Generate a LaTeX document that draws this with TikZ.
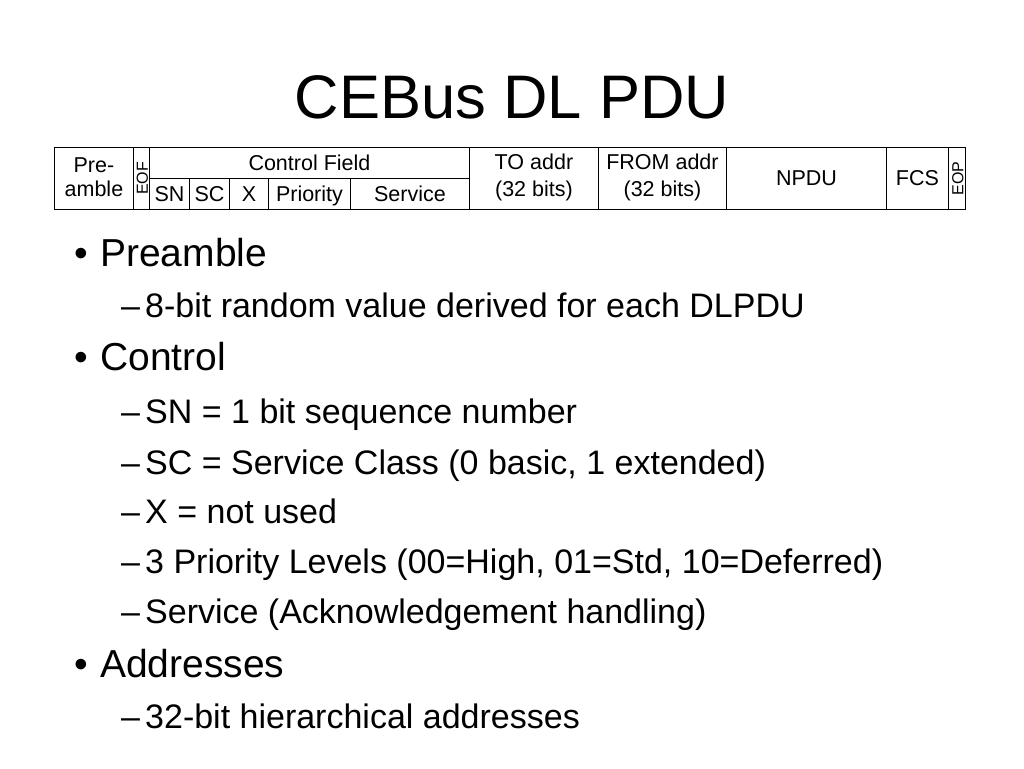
\documentclass[tikz,border=0pt]{standalone}
\usepackage{fontspec}
\setmainfont{Liberation Sans}
\begin{document}
\begin{tikzpicture}[x=1pt,y=-1pt,
  cell/.style={draw, line width=0.9pt, inner sep=0pt, anchor=north west, align=center,
    font=\fontsize{21.5}{24}\selectfont},
  lbl/.style={inner sep=0pt, anchor=base, font=\fontsize{21.5}{24}\selectfont},
  vlbl/.style={rotate=90, inner sep=0pt, font=\fontsize{16}{18}\selectfont},
  ttl/.style={anchor=base, font=\fontsize{61.5}{70}\selectfont},
  lone/.style={anchor=base west, inner sep=0pt, font=\fontsize{39}{44}\selectfont},
  ltwo/.style={anchor=base west, inner sep=0pt, font=\fontsize{34}{38}\selectfont}]
\useasboundingbox (0,0) rectangle (1024,768);
% title
\node[ttl] (title) at (512,118) {CEBus DL PDU};
% table cells
\newcommand{\cellat}[5]{% name, x0, x1, y0, y1
  \node[cell, minimum width=#3pt-#2pt, minimum height=#5pt-#4pt] (#1) at (#2,#4) {};}
\cellat{pre}{54}{133}{147}{209}
\cellat{eof}{133}{149}{147}{209}
\cellat{ctl}{149}{469}{147}{178}
\cellat{sn}{149}{189}{178}{209}
\cellat{sc}{189}{229}{178}{209}
\cellat{xx}{229}{268}{178}{209}
\cellat{pri}{268}{350}{178}{209}
\cellat{srv}{350}{469}{178}{209}
\cellat{to}{469}{598}{147}{209}
\cellat{from}{598}{726}{147}{209}
\cellat{npdu}{726}{886}{147}{209}
\cellat{fcs}{886}{948}{147}{209}
\cellat{eop}{948}{965}{147}{209}
% cell labels
\node[lbl] (prea) at ([yshift=6pt]pre.center) {Pre-};
\node[lbl] (preb) at ([yshift=-18.5pt]pre.center) {amble};
\node[vlbl] (eoft) at ([xshift=1pt]eof.center) {EOF};
\node[lbl] (ctlt) at ([yshift=-8pt]ctl.center) {Control Field};
\node[lbl] (snt) at ([yshift=-7.5pt]sn.center) {SN};
\node[lbl] (sct) at ([yshift=-7.5pt]sc.center) {SC};
\node[lbl] (xt) at ([yshift=-7.5pt]xx.center) {X};
\node[lbl] (prit) at ([yshift=-7.5pt]pri.center) {Priority};
\node[lbl] (srvt) at ([yshift=-7.5pt]srv.center) {Service};
\node[lbl] (toa) at ([yshift=8.5pt]to.center) {TO addr};
\node[lbl] (tob) at ([yshift=-18.5pt]to.center) {(32 bits)};
\node[lbl] (froma) at ([yshift=8.5pt]from.center) {FROM addr};
\node[lbl] (fromb) at ([yshift=-18.5pt]from.center) {(32 bits)};
\node[lbl] (npdut) at ([yshift=-7.5pt]npdu.center) {NPDU};
\node[lbl] (fcst) at ([yshift=-7.5pt]fcs.center) {FCS};
\node[vlbl] (eopt) at ([xshift=1pt]eop.center) {EOP};
% bullets
\node[lone] (b1) at (74,266.5) {\textbullet};
\node[lone] (t1) at (100,266.5) {Preamble};
\node[ltwo] (d1) at (121,317) {–};
\node[ltwo] (s1) at (145,317) {8-bit random value derived for each DLPDU};
\node[lone] (b2) at (74,370.5) {\textbullet};
\node[lone] (t2) at (100,370.5) {Control};
\node[ltwo] (d2) at (121,423) {–};
\node[ltwo] (s2) at (145,423) {SN = 1 bit sequence number};
\node[ltwo] (d3) at (121,474) {–};
\node[ltwo] (s3) at (145,474) {SC = Service Class (0 basic, 1 extended)};
\node[ltwo] (d4) at (121,523) {–};
\node[ltwo] (s4) at (145,523) {X = not used};
\node[ltwo] (d5) at (121,573) {–};
\node[ltwo] (s5) at (145,573) {3 Priority Levels (00=High, 01=Std, 10=Deferred)};
\node[ltwo] (d6) at (121,623) {–};
\node[ltwo] (s6) at (145,623) {Service (Acknowledgement handling)};
\node[lone] (b3) at (74,677.5) {\textbullet};
\node[lone] (t3) at (100,677.5) {Addresses};
\node[ltwo] (d7) at (121,728) {–};
\node[ltwo] (s7) at (145,728) {32-bit hierarchical addresses};
\end{tikzpicture}
\end{document}
